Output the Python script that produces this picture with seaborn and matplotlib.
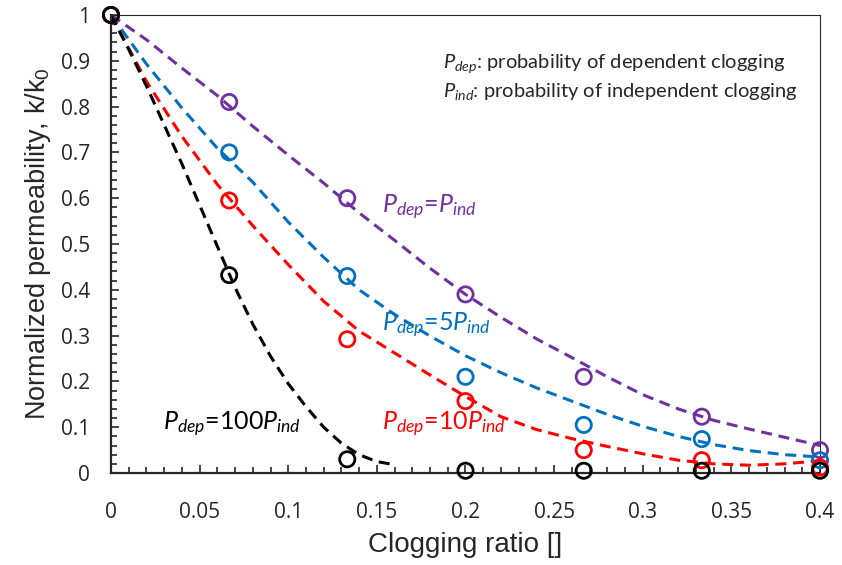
import matplotlib
matplotlib.use('Agg')
import matplotlib.pyplot as plt
import seaborn as sns
from matplotlib.ticker import MultipleLocator, FormatStrFormatter

# measured points (clogging ratio vs k/k0)
ratio = [0, 0.0667, 0.1333, 0.2, 0.2667, 0.3333, 0.4]
k_equal = [1.0, 0.81, 0.60, 0.39, 0.21, 0.123, 0.05]
k_5x = [1.0, 0.70, 0.43, 0.21, 0.105, 0.074, 0.028]
k_10x = [1.0, 0.595, 0.292, 0.157, 0.05, 0.028, 0.012]
k_100x = [1.0, 0.432, 0.03, 0.005, 0.005, 0.005, 0.005]

# trend lines
trend_x = [0, 0.02, 0.04, 0.06, 0.08, 0.10, 0.12, 0.14, 0.16, 0.18, 0.20,
           0.22, 0.24, 0.26, 0.28, 0.30, 0.32, 0.34, 0.36, 0.38, 0.40]
trend_equal = [1.0, 0.946, 0.884, 0.824, 0.757, 0.694, 0.633, 0.568, 0.508, 0.447, 0.39,
               0.340, 0.293, 0.252, 0.210, 0.171, 0.140, 0.115, 0.096, 0.078, 0.060]
trend_5x = [1.0, 0.893, 0.797, 0.709, 0.635, 0.548, 0.471, 0.40, 0.346, 0.299, 0.256,
            0.219, 0.186, 0.157, 0.128, 0.102, 0.080, 0.062, 0.049, 0.040, 0.035]
trend_10x = [1.0, 0.855, 0.735, 0.630, 0.540, 0.455, 0.375, 0.31, 0.262, 0.214, 0.167,
             0.123, 0.095, 0.075, 0.058, 0.042, 0.028, 0.020, 0.017, 0.020, 0.027]
trend100_x = [0, 0.01, 0.02, 0.03, 0.04, 0.05, 0.06, 0.07, 0.08, 0.09, 0.10,
              0.11, 0.12, 0.13, 0.14, 0.15, 0.16]
trend_100x = [1.0, 0.925, 0.845, 0.76, 0.675, 0.585, 0.495, 0.405, 0.325, 0.255, 0.195,
              0.145, 0.10, 0.065, 0.04, 0.025, 0.018]

sns.set_style('ticks')
plt.rcParams['font.family'] = ['Liberation Sans', 'DejaVu Sans']
plt.rcParams['mathtext.fontset'] = 'custom'
plt.rcParams['mathtext.it'] = 'Lato:italic'
plt.rcParams['mathtext.rm'] = 'Lato'

purple = '#7030A0'
blue = '#0070C0'
red = '#FF0000'
black = '#000000'

fig = plt.figure(figsize=(8.42, 5.65), dpi=100)
ax = fig.add_axes([0.1318, 0.1628, 0.8421, 0.8107])

dash = (0, (3.6, 2.2))
series = [(trend_x, trend_equal, k_equal, purple),
          (trend_x, trend_5x, k_5x, blue),
          (trend_x, trend_10x, k_10x, red),
          (trend100_x, trend_100x, k_100x, black)]
for tx, ty, ky, c in series:
    sns.lineplot(x=tx, y=ty, ax=ax, color=c, lw=2.2, linestyle=dash, sort=False)
for tx, ty, ky, c in series:
    sns.scatterplot(x=ratio, y=ky, ax=ax, marker='o', s=120, facecolor='none',
                    edgecolor=c, linewidth=2.0, clip_on=False, zorder=3)

ax.set_xlim(0, 0.4)
ax.set_ylim(0, 1)
ax.xaxis.set_major_locator(MultipleLocator(0.05))
ax.xaxis.set_minor_locator(MultipleLocator(0.01))
ax.yaxis.set_major_locator(MultipleLocator(0.1))
ax.yaxis.set_minor_locator(MultipleLocator(0.02))
ax.xaxis.set_major_formatter(FormatStrFormatter('%g'))
ax.yaxis.set_major_formatter(FormatStrFormatter('%g'))
ax.tick_params(which='both', direction='in', top=False, right=False, width=1.2)
ax.tick_params(which='major', length=6, labelsize=15)
ax.tick_params(which='minor', length=4)
ax.tick_params(axis='x', which='major', pad=21)
ax.tick_params(axis='y', which='major', pad=15)
for lbl in ax.get_xticklabels() + ax.get_yticklabels():
    lbl.set_family('Open Sans')

for side in ['left', 'bottom']:
    ax.spines[side].set_linewidth(1.6)
for side in ['top', 'right']:
    ax.spines[side].set_linewidth(0.8)

ax.set_xlabel('Clogging ratio []', fontsize=20, labelpad=6)
ax.set_ylabel('Normalized permeability, k/k$_\\mathregular{0}$', fontsize=19.5, labelpad=6)

note = dict(family='Lato', fontsize=14.5, va='center', ha='left')
ax.text(0.1873, 0.895, r'$P_{dep}$: probability of dependent clogging', **note)
ax.text(0.1873, 0.834, r'$P_{ind}$: probability of independent clogging', **note)

lab = dict(family='Lato', fontsize=18, va='center', ha='left')
ax.text(0.153, 0.579, r'$P_{dep}$=$P_{ind}$', color=purple, **lab)
ax.text(0.153, 0.323, r'$P_{dep}$=5$P_{ind}$', color=blue, **lab)
ax.text(0.153, 0.105, r'$P_{dep}$=10$P_{ind}$', color=red, **lab)
ax.text(0.0293, 0.105, r'$P_{dep}$=100$P_{ind}$', color=black, **lab)

fig.savefig('out.png', dpi=100)
